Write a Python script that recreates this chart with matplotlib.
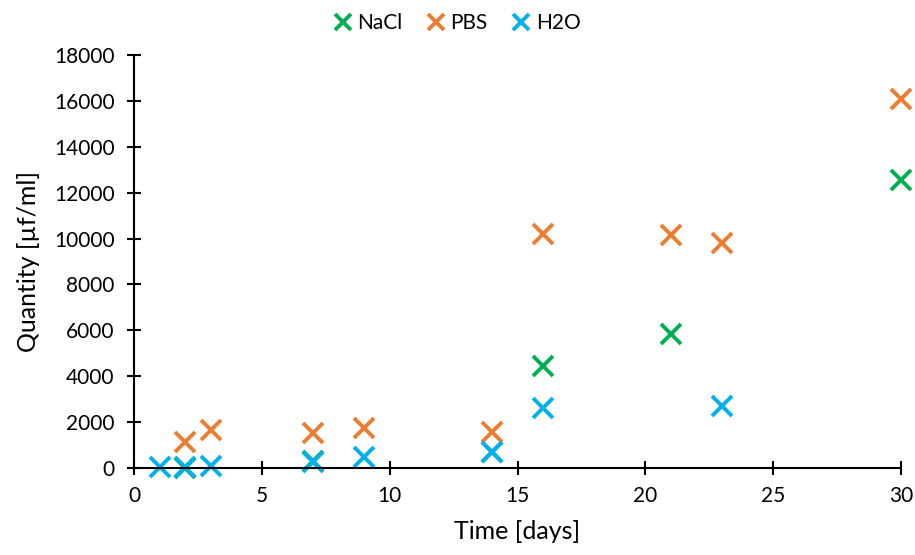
import matplotlib.pyplot as plt

plt.rcParams['font.family'] = ['Lato', 'DejaVu Sans']

# data
nacl_t = [2, 7, 14, 16, 21, 30]
nacl_q = [20, 300, 700, 4450, 5850, 12550]

pbs_t = [2, 3, 7, 9, 14, 16, 21, 23, 30]
pbs_q = [1130, 1660, 1530, 1750, 1580, 10220, 10170, 9810, 16090]

h2o_t = [1, 2, 3, 7, 9, 14, 16, 23]
h2o_q = [40, 30, 100, 250, 490, 700, 2620, 2700]

fig = plt.figure(figsize=(9.15, 5.55), dpi=100)
ax = fig.add_axes([134/915, 1-468/555, (901-134)/915, (468-55)/555])

mk = dict(marker='x', linestyle='none', markersize=15, markeredgewidth=2.8, clip_on=False)
ax.plot(nacl_t, nacl_q, color='#00B050', label='NaCl', **mk)
ax.plot(pbs_t, pbs_q, color='#ED7D31', label='PBS', **mk)
ax.plot(h2o_t, h2o_q, color='#00B0F0', label='H2O', **mk)

ax.set_xlim(0, 30)
ax.set_ylim(0, 18000)
ax.set_xticks(range(0, 31, 5))
ax.set_yticks(range(0, 18001, 2000))
for s in ['top', 'right']:
    ax.spines[s].set_visible(False)
for s in ['left', 'bottom']:
    ax.spines[s].set_linewidth(1.5)
ax.tick_params(direction='inout', length=10, width=1.5, labelsize=15)
ax.tick_params(axis='y', pad=9)
ax.tick_params(axis='x', pad=8)
ax.set_xlabel('Time [days]', fontsize=18, labelpad=10)
ax.set_ylabel('Quantity [µf/ml]', fontsize=18, labelpad=10)

ax.legend(loc='upper center', bbox_to_anchor=(0.5, 1.01), bbox_transform=fig.transFigure,
          ncol=3, frameon=False, fontsize=15, handlelength=0.8, handletextpad=0.3,
          columnspacing=1.2, markerscale=0.75)

fig.savefig('out.png', dpi=100)
